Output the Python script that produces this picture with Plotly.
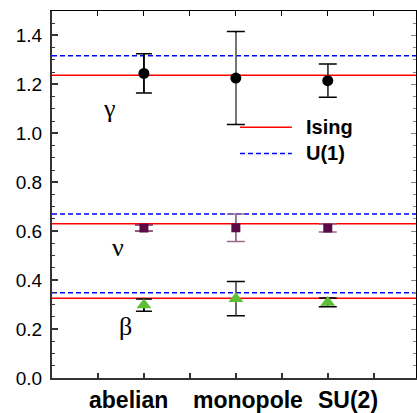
import plotly.graph_objects as go

# ---- data ----
categories = ["abelian", "monopole", "SU(2)"]
cat_x = [1, 2, 3]

gamma_val = [1.245, 1.226, 1.215]
gamma_err = [0.080, 0.190, 0.068]
nu_val = [0.613, 0.614, 0.613]
nu_err = [0.012, 0.056, 0.016]
beta_val = [0.298, 0.324, 0.309]
beta_err = [0.025, 0.070, 0.018]

ising = [1.237, 0.630, 0.326]   # gamma, nu, beta
u1 = [1.317, 0.670, 0.348]

y_ticks = [0.0, 0.2, 0.4, 0.6, 0.8, 1.0, 1.2, 1.4]

XR = [0, 3.96]
YR = [0, 1.5]

ISING_STYLE = dict(color="#ff0000", width=1.5)
U1_STYLE = dict(color="#0000ff", width=1.5, dash="5px,3px")

fig = go.Figure()

# reference lines
def hlines(vals):
    xs, ys = [], []
    for v in vals:
        xs += [XR[0], XR[1], None]
        ys += [v, v, None]
    return xs, ys

xs, ys = hlines(ising)
fig.add_trace(go.Scatter(x=xs, y=ys, mode="lines", name="Ising",
                         showlegend=False, line=ISING_STYLE))
xs, ys = hlines(u1)
fig.add_trace(go.Scatter(x=xs, y=ys, mode="lines", name="U(1)",
                         showlegend=False, line=U1_STYLE))

series = [
    (gamma_val, gamma_err, "circle", 11, "#000000",
     ["#000000", "#000000", "#000000"], ["#000000", "#808080", "#444444"], [8, 9, 9]),
    (nu_val, nu_err, "square", 9, "#5a0a46",
     ["#6a2a58", "#9a6a8e", "#9a6a8e"], ["#6a2a58", "#9a6a8e", "#9a6a8e"], [9, 9, 9]),
    (beta_val, beta_err, "triangle-up", 13, "#5cbf35",
     ["#000000", "#000000", "#000000"], ["#000000", "#707070", "#000000"], [8, 9, 9]),
]

for vals, errs, sym, size, mcol, capcols, stemcols, capw in series:
    for i in range(3):
        fig.add_trace(go.Scatter(
            x=[cat_x[i]], y=[vals[i]], mode="markers", showlegend=False,
            marker=dict(size=1, opacity=0),
            error_y=dict(type="data", array=[errs[i]], color=capcols[i],
                         thickness=1.5, width=capw[i])))
        fig.add_trace(go.Scatter(
            x=[cat_x[i]], y=[vals[i]], mode="markers", showlegend=False,
            marker=dict(size=1, opacity=0),
            error_y=dict(type="data", array=[errs[i] * 0.97], color=stemcols[i],
                         thickness=1.5, width=0)))
    fig.add_trace(go.Scatter(
        x=cat_x, y=vals, mode="markers", showlegend=False,
        marker=dict(symbol=sym, size=size, color=mcol, line=dict(width=0))))

# invisible trace for mirrored axes
fig.add_trace(go.Scatter(x=[XR[0]], y=[YR[0]], xaxis="x2", yaxis="y2",
                         mode="markers", marker=dict(opacity=0), showlegend=False,
                         hoverinfo="skip"))

tickfont = dict(family="Liberation Sans", size=19, color="black")

fig.update_layout(
    width=417, height=413,
    margin=dict(l=52, r=1, t=11, b=35),
    paper_bgcolor="white", plot_bgcolor="white",
    showlegend=False,
    xaxis=dict(range=XR, showgrid=False, zeroline=False, showline=True,
               linecolor="#333333", linewidth=2, ticks="inside", ticklen=5,
               tickcolor="#333333", tickwidth=1.5, dtick=0.5, tick0=0,
               showticklabels=False),
    yaxis=dict(range=YR, showgrid=False, zeroline=False, showline=True,
               linecolor="#333333", linewidth=2, ticks="inside", ticklen=6,
               tickcolor="#333333", tickwidth=1.5,
               tickvals=y_ticks, ticktext=[f"{v:.1f}" for v in y_ticks],
               tickfont=tickfont, ticklabelstandoff=4,
               minor=dict(ticks="inside", dtick=0.05, tick0=0, ticklen=3,
                          tickcolor="#333333", tickwidth=1)),
    xaxis2=dict(range=XR, overlaying="x", side="top", showgrid=False,
                zeroline=False, showline=True, linecolor="black", linewidth=1,
                ticks="inside", ticklen=5, tickcolor="black", tickwidth=1,
                dtick=0.5, tick0=0, showticklabels=False),
    yaxis2=dict(range=YR, overlaying="y", side="right", showgrid=False,
                zeroline=False, showline=True, linecolor="black", linewidth=1,
                ticks="inside", ticklen=5, tickcolor="#888888", tickwidth=1,
                dtick=0.2, tick0=0, showticklabels=False,
                minor=dict(ticks="inside", dtick=0.05, tick0=0, ticklen=3,
                           tickcolor="#888888", tickwidth=1)),
)

# legend drawn by hand (long line samples)
legend_items = [("Ising", ISING_STYLE, 0.683), ("U(1)", U1_STYLE, 0.612)]
for name, style, ly in legend_items:
    fig.add_shape(type="line", xref="paper", yref="paper",
                  x0=0.5165, x1=0.659, y0=ly, y1=ly, line=style)
    fig.add_annotation(x=0.692, y=ly, xref="paper", yref="paper",
                       text=f"<b>{name}</b>", showarrow=False,
                       xanchor="left", yanchor="middle",
                       font=dict(family="Liberation Sans", size=20, color="black"))

# category labels below the axis
label_x = [0.835, 2.135, 3.225]
for lx, name in zip(label_x, categories):
    fig.add_annotation(x=lx, xref="x", y=-0.06, yref="paper", text=f"<b>{name}</b>",
                       showarrow=False, xanchor="center", yanchor="middle",
                       font=dict(family="Liberation Sans", size=23, color="black"))

# exponent labels
greek = [("γ", 0.63, 1.10), ("ν", 0.72, 0.534), ("β", 0.80, 0.21)]
for t, gx, gy in greek:
    fig.add_annotation(x=gx, y=gy, xref="x", yref="y", text=t, showarrow=False,
                       font=dict(family="Liberation Serif", size=26, color="black"))

fig.write_html("out.html")
